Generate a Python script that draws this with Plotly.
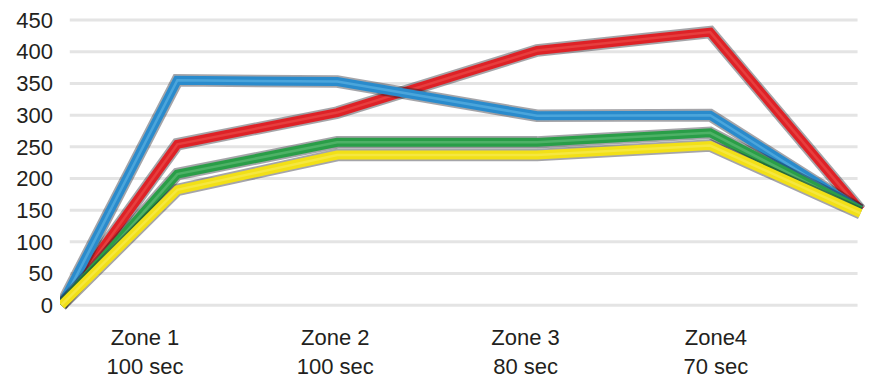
import plotly.graph_objects as go

# x positions of the vertices (1..4 = the zone labels)
x_pos = [0.56, 1.17, 2.01, 3.06, 3.97, 4.76]
zone_ticks = [1, 2, 3, 4]
zone_labels = ["Zone 1<br>100 sec", "Zone 2<br>100 sec", "Zone 3<br>80 sec", "Zone4<br>70 sec"]

red = [0, 254, 304, 402, 431, 150]
blue = [0, 355, 353, 299, 300, 150]
green = [0, 207, 257, 257, 272, 150]
yellow = [0, 182, 237, 237, 252, 145]

y_ticks = [0, 50, 100, 150, 200, 250, 300, 350, 400, 450]

# back to front
series = [
    (red, "#de2227", "#ee5a55"),
    (blue, "#2a8bcc", "#6cc0ea"),
    (green, "#2a9e48", "#72c584"),
    (yellow, "#f2e017", "#f8ee6a"),
]

fig = go.Figure()

# gridlines
for v in y_ticks:
    fig.add_shape(
        type="line", xref="paper", yref="y",
        x0=0.012, x1=0.981, y0=v, y1=v,
        line=dict(color="#e4e4e4", width=3),
        layer="below"
    )

for vals, col, light in series:
    # soft dark edge
    fig.add_trace(go.Scatter(
        x=x_pos, y=vals, mode="lines",
        line=dict(color="rgba(30,30,40,0.4)", width=12.5),
        hoverinfo="skip"
    ))
    fig.add_trace(go.Scatter(
        x=x_pos, y=vals, mode="lines",
        line=dict(color=col, width=9),
        hoverinfo="skip"
    ))
    fig.add_trace(go.Scatter(
        x=x_pos, y=vals, mode="lines",
        line=dict(color=light, width=2.5),
        opacity=0.5,
        hoverinfo="skip"
    ))

fig.update_xaxes(
    range=[0.5533, 4.8255],
    tickvals=zone_ticks, ticktext=zone_labels,
    showgrid=False, zeroline=False, showline=False,
    tickfont=dict(family="Liberation Sans, Arial", size=22, color="#231f20"),
    ticks="", ticklabelstandoff=4
)
fig.update_yaxes(
    range=[-20.2, 453.3],
    tickvals=y_ticks,
    showgrid=False, zeroline=False, showline=False,
    tickfont=dict(family="Liberation Sans, Arial", size=22, color="#231f20"),
    ticks="", ticklabelstandoff=6, ticklabeloverflow="allow"
)

# page body adds an 8px margin, so the figure is 8px smaller each way
fig.update_layout(
    width=865, height=371,
    showlegend=False,
    plot_bgcolor="white",
    paper_bgcolor="white",
    margin=dict(l=52, r=0, t=6, b=61)
)

fig.write_html("out.html")
